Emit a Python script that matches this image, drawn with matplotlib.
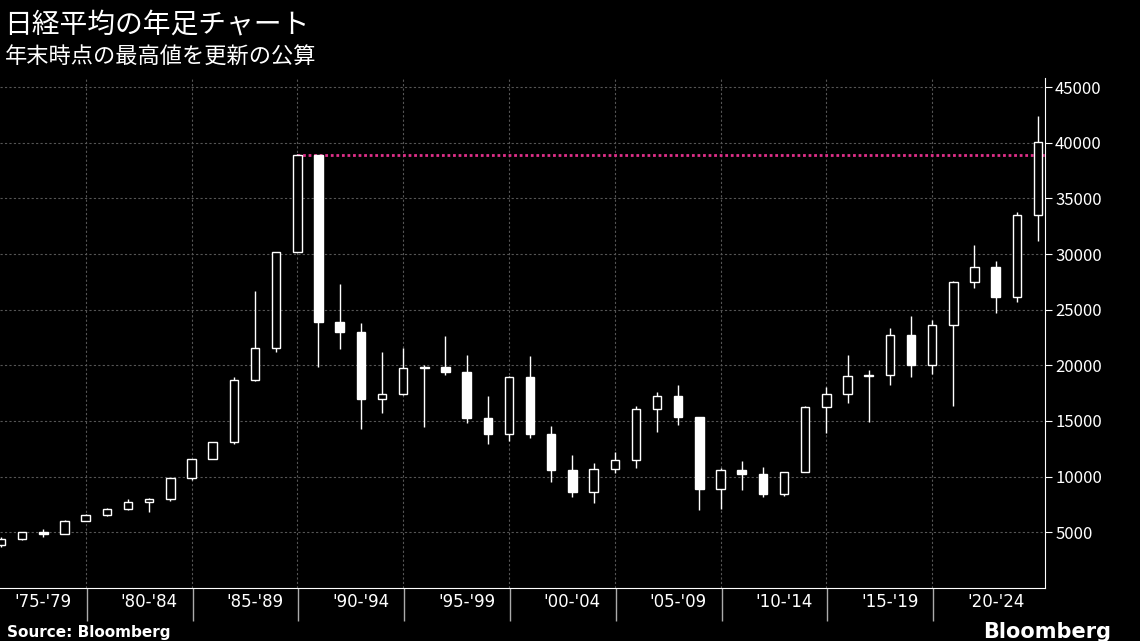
import numpy as np
import matplotlib.pyplot as plt
from matplotlib.patches import Rectangle

plt.rcParams['font.family'] = ['Noto Sans CJK JP', 'DejaVu Sans']

years = np.arange(1975, 2025)
close = [4358, 4991, 4866, 6002, 6569, 7116, 7682, 8017, 9894, 11543,
         13113, 18701, 21564, 30159, 38916, 23849, 22984, 16925, 17417, 19723,
         19868, 19361, 15259, 13842, 18934, 13786, 10543, 8579, 10677, 11489,
         16111, 17226, 15308, 8860, 10546, 10229, 8455, 10395, 16291, 17451,
         19034, 19114, 22765, 20015, 23657, 27444, 28792, 26095, 33464, 40100]
open_ = [3817] + close[:-1]
high = [4564, 5000, 5287, 6097, 6590, 7188, 8019, 8026, 9893, 11577,
        13129, 18936, 26646, 30159, 38957, 38712, 27270, 23801, 21148, 21552,
        20011, 22666, 20910, 17264, 19036, 20833, 14529, 11980, 11238, 12163,
        16344, 17563, 18262, 15156, 10767, 11408, 10891, 10433, 16320, 18030,
        20953, 19592, 23382, 24448, 24091, 27602, 30795, 29388, 33753, 42426]
low = [3627, 4300, 4597, 4867, 5970, 6476, 6957, 6849, 7803, 9703,
       11545, 12881, 18544, 21217, 30183, 19800, 21456, 14309, 15670, 17369,
       14485, 19161, 14775, 12880, 13232, 13423, 9504, 8197, 7603, 10299,
       10770, 14045, 14669, 6994, 7054, 8796, 8135, 8238, 10398, 13885,
       16592, 14864, 18224, 18948, 19241, 16358, 26954, 24681, 25661, 31156]
group_labels = ["'75-'79", "'80-'84", "'85-'89", "'90-'94", "'95-'99",
                "'00-'04", "'05-'09", "'10-'14", "'15-'19", "'20-'24"]
record = 38916

fig = plt.figure(figsize=(11.4, 6.41), dpi=100, facecolor='black')
ax = fig.add_axes([0.0, 0.083, 0.917, 0.795], facecolor='black')

w = 0.4
for y, o, h, l, c in zip(years, open_, high, low, close):
    up = c >= o
    bottom, top = min(o, c), max(o, c)
    ax.vlines(y, l, bottom, color='white', lw=1, zorder=3)
    ax.vlines(y, top, h, color='white', lw=1, zorder=3)
    ax.add_patch(Rectangle((y - w / 2, bottom), w, max(top - bottom, 60),
                           facecolor='black' if up else 'white',
                           edgecolor='white', lw=1, zorder=4))

ax.plot([1989, 2024.4], [record, record], color='#e0308a', lw=2,
        linestyle=(0, (1, 1)), zorder=2)

ax.set_xlim(1974.95, 2024.35)
ax.set_ylim(0, 45800)
ax.yaxis.tick_right()
ax.set_yticks(range(5000, 45001, 5000))
ax.tick_params(axis='y', colors='white', labelsize=12, length=5, pad=2)
for s in ['top', 'left']:
    ax.spines[s].set_visible(False)
ax.spines['right'].set_color('white')
ax.spines['bottom'].set_color('white')
ax.grid(axis='y', color='#555555', linestyle=(0, (2, 2)), lw=0.8)
for x in range(1979, 2024, 5):
    ax.axvline(x, color='#555555', linestyle=(0, (2, 2)), lw=0.8, zorder=1)

# group ticks below axis and labels
ax.set_xticks(np.arange(1979.05, 2024, 5))
ax.set_xticklabels([])
ax.tick_params(axis='x', colors='#aaaaaa', length=24, width=1, direction='out')
for i, lab in enumerate(group_labels):
    ax.text(1977 + 5 * i, -500, lab, color='white', fontsize=12,
            ha='center', va='top', family=['DejaVu Sans'])

fig.text(0.004, 0.985, '日経平均の年足チャート', color='white', fontsize=20, va='top')
fig.text(0.004, 0.93, '年末時点の最高値を更新の公算', color='white', fontsize=16, va='top')
fig.text(0.006, 0.006, 'Source: Bloomberg', color='white', fontsize=11,
         fontweight='bold', family=['DejaVu Sans'])
fig.text(0.975, 0.004, 'Bloomberg', color='white', fontsize=15,
         fontweight='bold', ha='right', family=['DejaVu Sans'])

fig.savefig('out.png', dpi=100, facecolor='black')
